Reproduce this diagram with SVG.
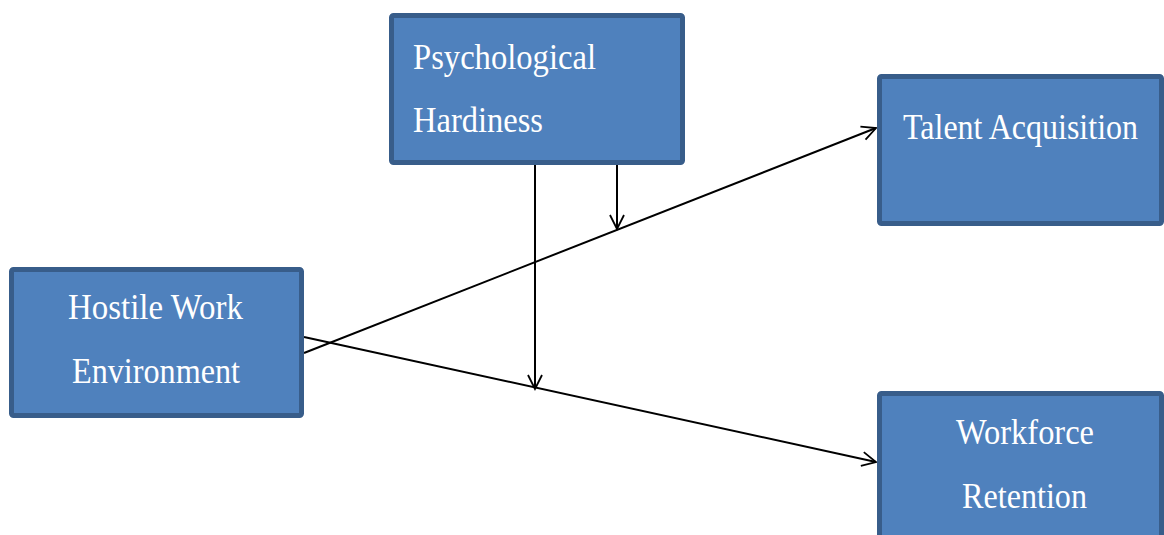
<svg xmlns="http://www.w3.org/2000/svg" width="1164" height="535" viewBox="0 0 1164 535">
<style>
.box{fill:#4f81bd;stroke:#385d8a;stroke-width:5}
.t{font-family:"Liberation Serif","Times New Roman",serif;font-size:36px;fill:#ffffff}
.c{fill:none;stroke:#000;stroke-width:2}
</style>
<defs>
<marker id="ah" viewBox="0 0 18 18" refX="16" refY="9" markerWidth="18" markerHeight="18" markerUnits="userSpaceOnUse" orient="auto">
<polyline points="2,2 16,9 2,16" fill="none" stroke="#000" stroke-width="1.8"/>
</marker>
</defs>
<rect width="1164" height="535" fill="#fff"/>
<g id="connectors">
<line class="c" x1="304" y1="353" x2="876" y2="128" marker-end="url(#ah)"/>
<line class="c" x1="304" y1="337" x2="876" y2="462" marker-end="url(#ah)"/>
<line class="c" x1="535" y1="165" x2="535" y2="389" marker-end="url(#ah)"/>
<line class="c" x1="617" y1="165" x2="617" y2="229" marker-end="url(#ah)"/>
</g>
<g id="psych">
<rect class="box" x="391.5" y="15.5" width="291" height="147" rx="2"/>
<text class="t" x="413" y="69" textLength="183" lengthAdjust="spacingAndGlyphs">Psychological</text>
<text class="t" x="413" y="132" textLength="130" lengthAdjust="spacingAndGlyphs">Hardiness</text>
</g>
<g id="talent">
<rect class="box" x="879.5" y="76.5" width="282" height="147" rx="2"/>
<text class="t" style="font-size:32px" transform="translate(903,139) scale(1,1.12)" x="0" y="0">Talent Acquisition</text>
</g>
<g id="hostile">
<rect class="box" x="11.5" y="269.5" width="290" height="146" rx="2"/>
<text class="t" x="68" y="319" textLength="175" lengthAdjust="spacingAndGlyphs">Hostile Work</text>
<text class="t" x="72" y="383" textLength="168" lengthAdjust="spacingAndGlyphs">Environment</text>
</g>
<g id="workforce">
<rect class="box" x="879.5" y="393.5" width="282" height="150" rx="2"/>
<text class="t" x="956" y="444" textLength="138" lengthAdjust="spacingAndGlyphs">Workforce</text>
<text class="t" x="962" y="508" textLength="125" lengthAdjust="spacingAndGlyphs">Retention</text>
</g>
</svg>
